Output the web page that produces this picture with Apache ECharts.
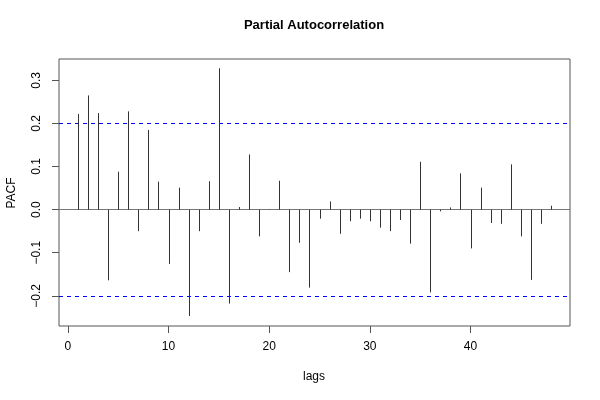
<!DOCTYPE html>
<html>
<head>
<meta charset="utf-8">
<script src="https://cdn.jsdelivr.net/npm/echarts@6/dist/echarts.min.js"></script>
<style>html,body{margin:0;padding:0;background:#fff}#c{width:600px;height:400px}</style>
</head>
<body>
<div id="c"></div>
<script>
var lags = [1,2,3,4,5,6,7,8,9,10,11,12,13,14,15,16,17,18,19,20,21,22,23,24,25,26,27,28,29,30,31,32,33,34,35,36,37,38,39,40,41,42,43,44,45,46,47,48];
var pacf = [0.222,0.265,0.224,-0.164,0.088,0.228,-0.050,0.185,0.065,-0.126,0.051,-0.247,-0.050,0.066,0.328,-0.218,0.006,0.128,-0.062,0.001,0.067,-0.145,-0.077,-0.181,-0.021,0.019,-0.056,-0.027,-0.021,-0.027,-0.042,-0.050,-0.024,-0.079,0.111,-0.192,-0.004,0.005,0.084,-0.090,0.051,-0.031,-0.033,0.105,-0.062,-0.163,-0.033,0.009];
var xTicks = [0,10,20,30,40];
var yTicks = [-0.2,-0.1,0,0.1,0.2,0.3];
var clim = 0.2;
var titleText = 'Partial Autocorrelation';
var xName = 'lags';
var yName = 'PACF';

var font = '"Liberation Sans", Arial, Helvetica, sans-serif';
var chart = echarts.init(document.getElementById('c'), null, {renderer: 'canvas'});
var data = lags.map(function (l, i) { return [l, pacf[i]]; });

function hline(val, color, type) {
  return {
    type: 'line', data: [], silent: true,
    markLine: {
      silent: true, symbol: 'none', label: {show: false}, animation: false,
      lineStyle: {color: color, type: type, width: 1},
      data: [{yAxis: val}]
    }
  };
}

chart.setOption({
  animation: false,
  grid: {left: 59, right: 30, top: 59, bottom: 74, show: true, borderColor: '#555', borderWidth: 1, backgroundColor: 'transparent'},
  xAxis: {
    type: 'value', min: -0.88, max: 49.88,
    splitLine: {show: false},
    axisLine: {show: false, onZero: false},
    axisTick: {show: true, length: 7, inside: false, customValues: xTicks, lineStyle: {color: '#555'}},
    axisLabel: {customValues: xTicks, margin: 15, color: '#000', fontSize: 12, fontFamily: font,
      formatter: function (v) { return String(v); }}
  },
  yAxis: {
    type: 'value', min: -0.27, max: 0.3495,
    splitLine: {show: false},
    axisLine: {show: false, onZero: false},
    axisTick: {show: true, length: 7, inside: false, customValues: yTicks, lineStyle: {color: '#555'}},
    axisLabel: {customValues: yTicks, rotate: 90, margin: 16, color: '#000', fontSize: 12, fontFamily: font,
      formatter: function (v) { return (Math.round(v * 10) / 10).toFixed(1).replace('-', '\u2212'); }}
  },
  series: [
    hline(0, '#777', 'solid'),
    hline(clim, '#0000ff', [4, 4]),
    hline(-clim, '#0000ff', [4, 4]),
    {
      type: 'custom',
      data: data,
      z: 5,
      renderItem: function (params, api) {
        var p0 = api.coord([api.value(0), 0]);
        var p1 = api.coord([api.value(0), api.value(1)]);
        var x = Math.round(p0[0]) + 0.5;
        return {type: 'line', shape: {x1: x, y1: p0[1], x2: x, y2: p1[1]},
          style: {stroke: '#333', lineWidth: 1}};
      }
    }
  ],
  graphic: [
    {type: 'text', x: 314, y: 25, style: {text: titleText, font: 'bold 13px ' + font, fill: '#000', textAlign: 'center', textVerticalAlign: 'middle'}},
    {type: 'text', x: 314, y: 377, style: {text: xName, font: '12px ' + font, fill: '#000', textAlign: 'center', textVerticalAlign: 'middle'}},
    {type: 'text', x: 12, y: 193, rotation: Math.PI / 2, style: {text: yName, font: '12px ' + font, fill: '#000', textAlign: 'center', textVerticalAlign: 'middle'}}
  ]
});
</script>
</body>
</html>
